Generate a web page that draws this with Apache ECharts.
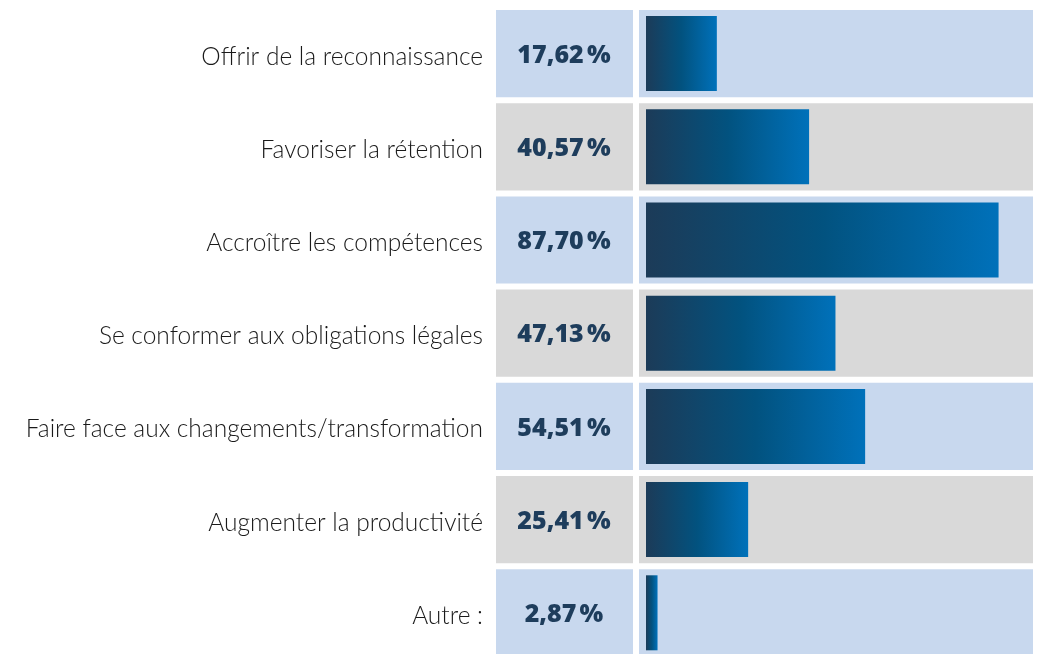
<!DOCTYPE html>
<html>
<head>
<meta charset="utf-8">
<script src="https://cdn.jsdelivr.net/npm/echarts@6/dist/echarts.min.js"></script>
<style>
html,body{margin:0;padding:0;background:#fff;}
#c{width:1044px;height:654px;}
</style>
</head>
<body>
<div id="c"></div>
<script>
var categories = [
  "Offrir de la reconnaissance",
  "Favoriser la rétention",
  "Accroître les compétences",
  "Se conformer aux obligations légales",
  "Faire face aux changements/transformation",
  "Augmenter la productivité",
  "Autre :"
];
var values = [17.62, 40.57, 87.70, 47.13, 54.51, 25.41, 2.87];

function fmt(v){ return v.toFixed(2).replace('.', ',') + '\u202F%'; }

var rowColors = ['#c8d8ee', '#d9d9d9'];

var chart = echarts.init(document.getElementById('c'), null, {renderer:'canvas'});
chart.setOption({
  animation:false,
  backgroundColor:'#ffffff',
  grid:{left:646, top:7, width:398, height:652.4, containLabel:false, outerBoundsMode:'none'},
  xAxis:{type:'value', min:0, max:99, show:false},
  yAxis:{
    type:'category', data:categories, inverse:true,
    axisLine:{show:false}, axisTick:{show:false}, splitLine:{show:false},
    axisLabel:{
      margin:163, align:'right',
      formatter:function(v){ return '{a|' + v + '}'; },
      rich:{a:{fontFamily:'Lato', fontWeight:300, fontSize:24.5, color:'#1a1a1a', padding:[6,0,0,0]}}
    }
  },
  series:[
    {
      type:'custom',
      z:1,
      data: values.map(function(v,i){ return [0, i, v]; }),
      encode:{x:0, y:1},
      renderItem:function(params, api){
        var idx = api.value(1);
        var c = api.coord([0, idx]);
        var band = api.size([0,1])[1];
        var top = c[1] - band/2 + 3;
        var h = band - 6;
        var col = rowColors[idx % 2];
        return {
          type:'group',
          children:[
            {type:'rect', shape:{x:496, y:top, width:137, height:h}, style:{fill:col}},
            {type:'rect', shape:{x:639, y:top, width:394, height:h}, style:{fill:col}},
            {type:'text', x:564, y:c[1] + 2, style:{
              text: fmt(api.value(2)), fill:'#1e3d5c',
              font:'800 25px "Open Sans"', align:'center', verticalAlign:'middle'
            }}
          ]
        };
      }
    },
    {
      type:'bar',
      z:2,
      data: values,
      barWidth:75,
      itemStyle:{
        color:{type:'linear', x:0, y:0, x2:1, y2:0, colorStops:[
          {offset:0, color:'#1c3b58'},
          {offset:0.5, color:'#02527f'},
          {offset:1, color:'#0071ba'}
        ]}
      }
    }
  ]
});
</script>
</body>
</html>
